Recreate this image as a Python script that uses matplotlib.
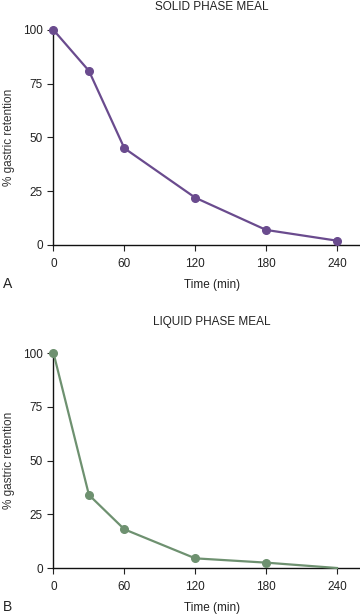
"""
Gastric emptying curves: solid vs liquid phase meal
"""

import matplotlib.pyplot as plt

# Data
time_min = [0, 30, 60, 120, 180, 240]
solid_retention = [100, 81, 45, 22, 7, 2]
liquid_retention = [100, 34, 18, 4.5, 2.5, 0]

x_ticks = [0, 60, 120, 180, 240]
y_ticks = [0, 25, 50, 75, 100]

plt.rcParams['font.family'] = ['Liberation Sans', 'DejaVu Sans']

fig = plt.figure(figsize=(3.6, 6.16), dpi=100)

panels = [
    # (bottom, values, colour, title, letter, marker count, title gap px)
    (0.6023, solid_retention, '#6a4b8e', 'SOLID PHASE MEAL', 'A', 6, 23),
    (0.0779, liquid_retention, '#6e9170', 'LIQUID PHASE MEAL', 'B', 5, 31),
]

for bottom, values, color, title, letter, n_marks, gap in panels:
    ax = fig.add_axes([0.1486, bottom, 0.8514, 0.349])
    ax.plot(time_min, values, '-', color=color, linewidth=1.6,
            clip_on=False, zorder=3)
    ax.plot(time_min[:n_marks], values[:n_marks], 'o', color=color,
            markersize=5.5, clip_on=False, zorder=4)

    ax.set_xlim(0, 259.5)
    ax.set_ylim(0, 100)
    ax.set_xticks(x_ticks)
    ax.set_yticks(y_ticks)
    ax.tick_params(direction='out', length=4.3, width=0.8, labelsize=8.5,
                   colors='#222222')
    ax.tick_params(axis='x', pad=5)
    ax.tick_params(axis='y', pad=3.5)
    for side in ('top', 'right'):
        ax.spines[side].set_visible(False)
    for side in ('left', 'bottom'):
        ax.spines[side].set_linewidth(1.0)
        ax.spines[side].set_color('#111111')

    ax.set_ylabel('% gastric retention', fontsize=8.5, color='#333333')
    ax.yaxis.set_label_coords(-0.125, 0.5)

    # title, x label and panel letter placed in figure pixels
    top_px = 616 - (bottom * 616 + 0.349 * 616)
    fig.text(212 / 360, 1 - (top_px - gap) / 616, title, fontsize=8.5,
             ha='center', va='center', color='#222222')
    base_px = 616 - bottom * 616
    fig.text(212 / 360, 1 - (base_px + 40) / 616, 'Time (min)', fontsize=8.5,
             ha='center', va='center', color='#222222')
    fig.text(3 / 360, 1 - (base_px + 39) / 616, letter, fontsize=10,
             ha='left', va='center', color='#222222')

fig.savefig('out.png', dpi=100)
